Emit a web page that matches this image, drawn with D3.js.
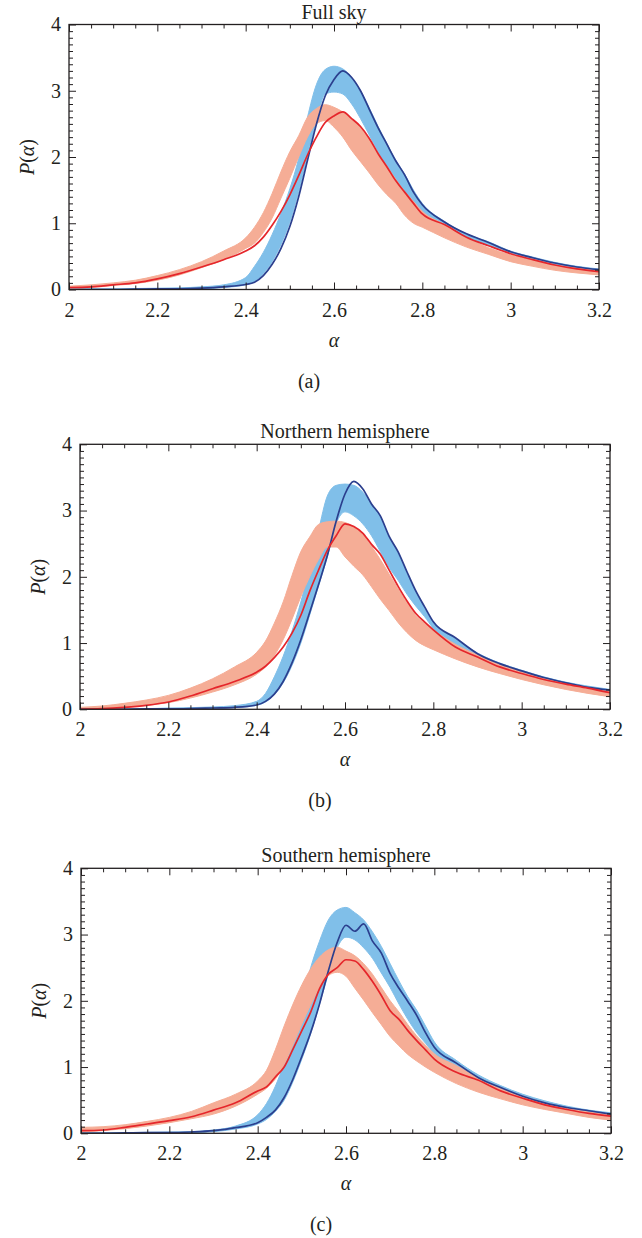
<!DOCTYPE html>
<html>
<head>
<meta charset="utf-8">
<script src="https://cdn.jsdelivr.net/npm/d3@7"></script>
<style>
  html, body { margin: 0; padding: 0; background: #fff; }
  svg { display: block; }
  text { font-family: "Liberation Serif", "DejaVu Serif", serif; fill: #231f20; }
</style>
</head>
<body>
<svg id="chart" width="642" height="1238"></svg>
<script>
// ---- data ----
const alpha = [2.0, 2.05, 2.1, 2.15, 2.2, 2.25, 2.3, 2.35, 2.4, 2.42, 2.44, 2.46, 2.48, 2.5, 2.52, 2.54, 2.56, 2.58, 2.6, 2.62, 2.64, 2.66, 2.68, 2.7, 2.72, 2.74, 2.76, 2.78, 2.8, 2.85, 2.9, 2.95, 3.0, 3.05, 3.1, 3.15, 3.2];

// (a) Full sky
const fullDark   = [0, 0, 0, 0.005, 0.01, 0.01, 0.02, 0.04, 0.075, 0.11, 0.21, 0.38, 0.62, 0.95, 1.40, 1.95, 2.49, 2.92, 3.17, 3.30, 3.20, 3.0, 2.72, 2.44, 2.19, 1.94, 1.73, 1.47, 1.28, 1.02, 0.84, 0.71, 0.57, 0.48, 0.40, 0.34, 0.30];
const fullRed    = [0.03, 0.04, 0.07, 0.10, 0.16, 0.24, 0.34, 0.45, 0.58, 0.66, 0.79, 0.97, 1.18, 1.43, 1.72, 2.03, 2.30, 2.52, 2.62, 2.68, 2.58, 2.46, 2.28, 2.05, 1.85, 1.64, 1.47, 1.30, 1.14, 0.98, 0.79, 0.66, 0.54, 0.45, 0.37, 0.31, 0.27];
const fullBlueHi = [0.01, 0.01, 0.01, 0.015, 0.02, 0.025, 0.04, 0.07, 0.18, 0.35, 0.56, 0.83, 1.15, 1.52, 1.98, 2.6, 3.09, 3.32, 3.37, 3.33, 3.2, 3.0, 2.74, 2.46, 2.2, 1.95, 1.74, 1.5, 1.3, 1.03, 0.84, 0.72, 0.58, 0.49, 0.41, 0.35, 0.31];
const fullBlueLo = [0, 0, 0, 0, 0, 0.005, 0.01, 0.03, 0.07, 0.12, 0.24, 0.42, 0.68, 1.02, 1.48, 2.02, 2.55, 2.95, 2.98, 2.95, 2.8, 2.58, 2.33, 2.08, 1.85, 1.63, 1.46, 1.3, 1.15, 0.94, 0.78, 0.66, 0.55, 0.46, 0.38, 0.32, 0.28];
const fullSalHi  = [0.05, 0.07, 0.10, 0.14, 0.21, 0.30, 0.42, 0.58, 0.78, 0.94, 1.16, 1.45, 1.78, 2.08, 2.32, 2.6, 2.73, 2.79, 2.75, 2.68, 2.58, 2.44, 2.26, 2.05, 1.86, 1.66, 1.48, 1.33, 1.18, 0.98, 0.78, 0.63, 0.52, 0.44, 0.37, 0.32, 0.28];
const fullSalLo  = [0.02, 0.03, 0.06, 0.09, 0.14, 0.22, 0.33, 0.45, 0.62, 0.7, 0.86, 1.08, 1.38, 1.68, 2.0, 2.3, 2.5, 2.55, 2.45, 2.3, 2.1, 1.93, 1.76, 1.58, 1.43, 1.3, 1.12, 1.0, 0.94, 0.78, 0.64, 0.53, 0.42, 0.35, 0.29, 0.25, 0.22];

// (b) Northern hemisphere
const northDark   = [0, 0, 0, 0.005, 0.005, 0.01, 0.02, 0.03, 0.065, 0.12, 0.23, 0.42, 0.70, 1.05, 1.46, 1.88, 2.32, 2.84, 3.25, 3.44, 3.33, 3.10, 2.92, 2.61, 2.38, 2.08, 1.79, 1.55, 1.32, 1.08, 0.84, 0.69, 0.58, 0.48, 0.40, 0.33, 0.29];
const northRed    = [0.0, 0.01, 0.03, 0.06, 0.11, 0.2, 0.31, 0.42, 0.56, 0.65, 0.78, 0.94, 1.15, 1.42, 1.78, 2.10, 2.40, 2.62, 2.80, 2.76, 2.66, 2.49, 2.34, 2.10, 1.86, 1.64, 1.45, 1.32, 1.20, 0.94, 0.79, 0.64, 0.54, 0.45, 0.38, 0.32, 0.25];
const northBlueHi = [0.005, 0.005, 0.01, 0.01, 0.02, 0.025, 0.035, 0.055, 0.12, 0.24, 0.49, 0.8, 1.18, 1.62, 2.15, 2.7, 3.22, 3.38, 3.4, 3.38, 3.28, 3.1, 2.9, 2.6, 2.36, 2.06, 1.78, 1.53, 1.32, 1.07, 0.85, 0.70, 0.59, 0.49, 0.41, 0.35, 0.30];
const northBlueLo = [0, 0, 0, 0, 0, 0.005, 0.01, 0.025, 0.06, 0.11, 0.22, 0.4, 0.66, 1.0, 1.42, 1.86, 2.3, 2.8, 2.98, 2.92, 2.8, 2.62, 2.38, 2.14, 1.95, 1.74, 1.56, 1.40, 1.22, 0.98, 0.80, 0.67, 0.56, 0.46, 0.39, 0.33, 0.28];
const northSalHi  = [0.03, 0.05, 0.09, 0.14, 0.21, 0.32, 0.46, 0.64, 0.86, 1.03, 1.3, 1.62, 2.02, 2.38, 2.6, 2.79, 2.83, 2.84, 2.82, 2.75, 2.64, 2.46, 2.26, 2.04, 1.82, 1.61, 1.42, 1.3, 1.2, 0.98, 0.82, 0.68, 0.57, 0.47, 0.39, 0.33, 0.28];
const northSalLo  = [0.0, 0.01, 0.03, 0.06, 0.1, 0.17, 0.26, 0.37, 0.53, 0.64, 0.81, 1.05, 1.36, 1.7, 2.0, 2.26, 2.45, 2.45, 2.3, 2.16, 2.03, 1.85, 1.66, 1.49, 1.31, 1.16, 1.04, 0.96, 0.9, 0.76, 0.64, 0.54, 0.45, 0.37, 0.3, 0.24, 0.19];

// (c) Southern hemisphere
const southDark   = [0.0, 0.0, 0.005, 0.01, 0.01, 0.02, 0.04, 0.085, 0.16, 0.24, 0.35, 0.54, 0.82, 1.16, 1.52, 1.95, 2.45, 2.88, 3.14, 3.05, 3.16, 2.9, 2.72, 2.41, 2.19, 1.99, 1.78, 1.52, 1.30, 1.06, 0.84, 0.69, 0.56, 0.46, 0.39, 0.34, 0.29];
const southRed    = [0.04, 0.05, 0.09, 0.14, 0.19, 0.25, 0.35, 0.46, 0.64, 0.70, 0.85, 1.0, 1.27, 1.55, 1.83, 2.18, 2.40, 2.50, 2.62, 2.60, 2.47, 2.29, 2.08, 1.85, 1.72, 1.55, 1.40, 1.26, 1.12, 0.92, 0.80, 0.64, 0.53, 0.43, 0.36, 0.30, 0.26];
const southBlueHi = [0.005, 0.01, 0.01, 0.015, 0.02, 0.025, 0.05, 0.11, 0.28, 0.45, 0.71, 1.06, 1.49, 1.96, 2.5, 2.9, 3.22, 3.37, 3.41, 3.33, 3.22, 3.04, 2.82, 2.56, 2.3, 2.06, 1.86, 1.62, 1.38, 1.1, 0.88, 0.72, 0.59, 0.49, 0.41, 0.35, 0.31];
const southBlueLo = [0, 0, 0, 0.005, 0.005, 0.01, 0.025, 0.065, 0.14, 0.21, 0.33, 0.5, 0.78, 1.12, 1.5, 1.95, 2.4, 2.8, 2.96, 2.92, 2.8, 2.64, 2.42, 2.2, 1.95, 1.72, 1.52, 1.36, 1.2, 0.98, 0.8, 0.66, 0.54, 0.45, 0.38, 0.32, 0.28];
const southSalHi  = [0.09, 0.1, 0.13, 0.18, 0.24, 0.33, 0.46, 0.59, 0.79, 0.95, 1.26, 1.62, 1.95, 2.24, 2.48, 2.66, 2.77, 2.81, 2.75, 2.68, 2.56, 2.4, 2.2, 2.0, 1.83, 1.64, 1.47, 1.33, 1.2, 1.02, 0.84, 0.68, 0.56, 0.46, 0.38, 0.32, 0.28];
const southSalLo  = [0.02, 0.04, 0.07, 0.11, 0.16, 0.22, 0.29, 0.41, 0.59, 0.68, 0.82, 1.04, 1.34, 1.65, 1.94, 2.2, 2.38, 2.43, 2.37, 2.19, 2.01, 1.82, 1.64, 1.46, 1.32, 1.19, 1.09, 1.0, 0.92, 0.75, 0.62, 0.52, 0.43, 0.36, 0.3, 0.24, 0.2];

const panelTitles = ["Full sky", "Northern hemisphere", "Southern hemisphere"];
const panelLetters = ["(a)", "(b)", "(c)"];
const xTicks = [2, 2.2, 2.4, 2.6, 2.8, 3, 3.2];
const xTickLabels = ["2", "2.2", "2.4", "2.6", "2.8", "3", "3.2"];
const yTicks = [0, 1, 2, 3, 4];
const yTickLabels = ["0", "1", "2", "3", "4"];

// ---- layout ----
const panels = [
  { left: 69, top: 24.5, dark: fullDark, red: fullRed, bHi: fullBlueHi, bLo: fullBlueLo, sHi: fullSalHi, sLo: fullSalLo },
  { left: 80, top: 444.3, dark: northDark, red: northRed, bHi: northBlueHi, bLo: northBlueLo, sHi: northSalHi, sLo: northSalLo },
  { left: 81, top: 868.3, dark: southDark, red: southRed, bHi: southBlueHi, bLo: southBlueLo, sHi: southSalHi, sLo: southSalLo }
];
const W = 530, H = 265;
const colors = { blueBand: "#80bfe9", salBand: "#f5ad96", dark: "#2b3f8e", red: "#e5262b", axis: "#231f20" };
const fs = 20;

const svg = d3.select("#chart");
const xMinor = d3.range(2, 3.2001, 0.05).filter(v => Math.abs(v * 5 - Math.round(v * 5)) > 1e-6);
const yMinor = d3.range(0, 4.0001, 0.1).filter(v => Math.abs(v - Math.round(v)) > 1e-6);

panels.forEach((p, i) => {
  const g = svg.append("g").attr("transform", `translate(${p.left},${p.top})`);
  const x = d3.scaleLinear().domain([2, 3.2]).range([0, W]);
  const y = d3.scaleLinear().domain([0, 4]).range([H, 0]);

  const clipId = "clip" + i;
  g.append("clipPath").attr("id", clipId).append("rect").attr("width", W).attr("height", H);
  const plot = g.append("g").attr("clip-path", `url(#${clipId})`);

  const band = (lo, hi) => d3.area().x((d, k) => x(alpha[k])).y0((d, k) => y(lo[k])).y1((d, k) => y(hi[k])).curve(d3.curveMonotoneX)(alpha);
  const line = (arr) => d3.line().x((d, k) => x(alpha[k])).y((d, k) => y(arr[k])).curve(d3.curveMonotoneX)(alpha);

  // blue ensemble band
  plot.append("path").attr("d", band(p.bLo, p.bHi)).attr("fill", colors.blueBand);
  [p.bLo, p.bHi].forEach(a => plot.append("path").attr("d", line(a)).attr("fill", "none").attr("stroke", colors.blueBand).attr("stroke-width", 1));
  // salmon ensemble band
  plot.append("path").attr("d", band(p.sLo, p.sHi)).attr("fill", colors.salBand);
  [p.sLo, p.sHi].forEach(a => plot.append("path").attr("d", line(a)).attr("fill", "none").attr("stroke", colors.salBand).attr("stroke-width", 1));
  // main lines
  plot.append("path").attr("d", line(p.dark)).attr("fill", "none").attr("stroke", colors.dark).attr("stroke-width", 1.7);
  plot.append("path").attr("d", line(p.red)).attr("fill", "none").attr("stroke", colors.red).attr("stroke-width", 1.7);

  // axes (ticks pointing inward)
  const styleAxis = sel => {
    sel.select(".domain").remove();
    sel.selectAll("line").attr("stroke", colors.axis).attr("stroke-width", 1);
    sel.selectAll("text").attr("font-size", fs).attr("font-family", "Liberation Serif, serif").attr("fill", colors.axis);
  };
  const fmtX = (d) => xTickLabels[xTicks.indexOf(d)];
  const fmtY = (d) => yTickLabels[yTicks.indexOf(d)];

  g.append("g").attr("transform", `translate(0,${H})`)
    .call(d3.axisBottom(x).tickValues(xTicks).tickFormat(fmtX).tickSize(-7).tickPadding(13)).call(styleAxis);
  g.append("g").attr("transform", `translate(0,${H})`)
    .call(d3.axisBottom(x).tickValues(xMinor).tickFormat("").tickSize(-4)).call(styleAxis);
  g.append("g").call(d3.axisTop(x).tickValues(xTicks).tickFormat("").tickSize(-7)).call(styleAxis);
  g.append("g").call(d3.axisTop(x).tickValues(xMinor).tickFormat("").tickSize(-4)).call(styleAxis);

  g.append("g").call(d3.axisLeft(y).tickValues(yTicks).tickFormat(fmtY).tickSize(-7).tickPadding(8)).call(styleAxis);
  g.append("g").call(d3.axisLeft(y).tickValues(yMinor).tickFormat("").tickSize(-4)).call(styleAxis);
  g.append("g").attr("transform", `translate(${W},0)`).call(d3.axisRight(y).tickValues(yTicks).tickFormat("").tickSize(-7)).call(styleAxis);
  g.append("g").attr("transform", `translate(${W},0)`).call(d3.axisRight(y).tickValues(yMinor).tickFormat("").tickSize(-4)).call(styleAxis);

  // frame
  g.append("rect").attr("width", W).attr("height", H).attr("fill", "none").attr("stroke", colors.axis).attr("stroke-width", 1.3);

  // title
  g.append("text").attr("x", W / 2).attr("y", -6).attr("text-anchor", "middle").attr("font-size", fs).text(panelTitles[i]);

  // x label
  g.append("text").attr("x", W / 2).attr("y", H + 57).attr("text-anchor", "middle").attr("font-size", fs)
    .attr("font-style", "italic").text("α");

  // y label
  const yl = g.append("text").attr("transform", `translate(-42,${H / 2}) rotate(-90)`)
    .attr("text-anchor", "middle").attr("dominant-baseline", "central").attr("font-size", fs);
  yl.append("tspan").attr("font-style", "italic").text("P");
  yl.append("tspan").text("(");
  yl.append("tspan").attr("font-style", "italic").text("α");
  yl.append("tspan").text(")");

  // panel letter
  g.append("text").attr("x", W / 2 - 25).attr("y", H + 98).attr("text-anchor", "middle").attr("font-size", fs)
    .text(panelLetters[i]);
});
</script>
</body>
</html>
